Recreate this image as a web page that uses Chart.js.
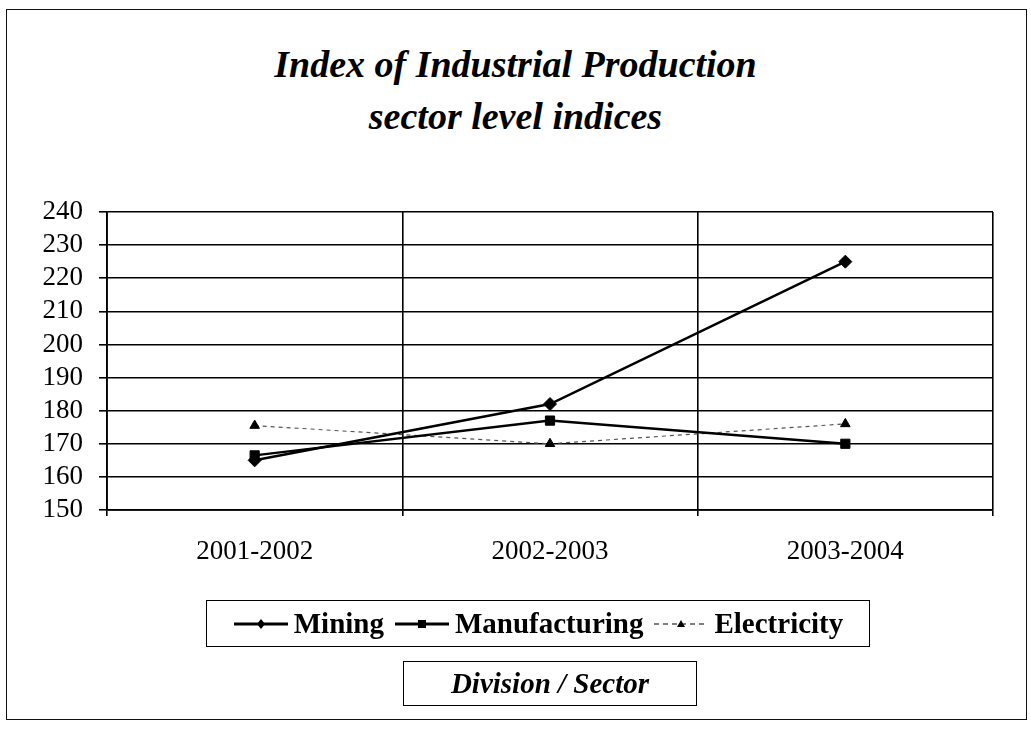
<!DOCTYPE html>
<html>
<head>
<meta charset="utf-8">
<script src="https://cdn.jsdelivr.net/npm/chart.js@4/dist/chart.umd.min.js"></script>
<style>
  html, body { margin: 0; padding: 0; background: #fff; }
  body { width: 1031px; height: 733px; position: relative; overflow: hidden; font-family: "Liberation Serif", "Times New Roman", serif; }
  #frame { position: absolute; left: 6px; top: 9px; width: 1021px; height: 711px; border: 1.5px solid #111; box-sizing: border-box; }
  #title { position: absolute; left: 0; width: 1031px; top: 38px; text-align: center; font-weight: bold; font-style: italic; font-size: 38px; line-height: 52px; color: #000; }
  #wrap { position: absolute; left: 0; top: 0; width: 1031px; height: 733px; }
  #legend { position: absolute; left: 206px; top: 600px; width: 664px; height: 47px; border: 1.5px solid #000; box-sizing: border-box; display: flex; align-items: center; justify-content: center; font-weight: bold; font-size: 29px; color: #000; white-space: nowrap; }
  #legend .item { display: flex; align-items: center; margin: 0 5px; }
  #legend svg { margin-right: 5px; }
  #xtitle { position: absolute; left: 403px; top: 661px; width: 294px; height: 45px; border: 1.5px solid #000; box-sizing: border-box; text-align: center; line-height: 42px; font-weight: bold; font-style: italic; font-size: 29px; color: #000; }
</style>
</head>
<body>
<div id="frame"></div>
<div id="title">Index of Industrial Production<br>sector level indices</div>
<div id="wrap"><canvas id="c" width="1031" height="733"></canvas></div>
<div id="legend"></div>
<div id="xtitle">Division / Sector</div>
<script>
const categories = ["2001-2002", "2002-2003", "2003-2004"];
const mining = [165, 182, 225];
const manufacturing = [166.5, 177, 170];
const electricity = [175.5, 170, 176];
const yTicks = [150, 160, 170, 180, 190, 200, 210, 220, 230, 240];
const seriesNames = ["Mining", "Manufacturing", "Electricity"];

const datasets = [
  { label: seriesNames[0], data: mining, borderColor: "#000", backgroundColor: "#000", borderWidth: 2.5, pointStyle: "rectRot", pointRadius: 6.5, pointBorderWidth: 1 },
  { label: seriesNames[1], data: manufacturing, borderColor: "#000", backgroundColor: "#000", borderWidth: 2.5, pointStyle: "rect", pointRadius: 6.5, pointBorderWidth: 1 },
  { label: seriesNames[2], data: electricity, borderColor: "#555", backgroundColor: "#000", borderWidth: 1.2, borderDash: [4, 4], pointStyle: "triangle", pointRadius: 5.5, pointBorderColor: "#000", pointBorderWidth: 1 }
];

const tickFont = { family: "Liberation Serif", size: 27 };

const chart = new Chart(document.getElementById("c"), {
  type: "line",
  data: { labels: categories, datasets: datasets },
  options: {
    responsive: false,
    animation: false,
    layout: { padding: { top: 212, right: 38, bottom: 163, left: 0 } },
    plugins: { legend: { display: false }, title: { display: false }, tooltip: { enabled: false } },
    scales: {
      x: {
        offset: true,
        grid: { offset: true, color: "#000", lineWidth: 1.6, tickLength: 6, drawTicks: true },
        border: { color: "#000", width: 1.8 },
        ticks: { color: "#000", padding: 20, font: tickFont, autoSkip: false, maxRotation: 0 },
        afterFit: (s) => { s.height = 60; }
      },
      y: {
        min: 150, max: 240,
        afterBuildTicks: (s) => { s.ticks = yTicks.map(v => ({ value: v })); },
        grid: { color: "#000", lineWidth: 1.6, tickLength: 8 },
        border: { color: "#000", width: 1.8 },
        ticks: { color: "#000", padding: 16, font: tickFont, autoSkip: false },
        afterFit: (s) => { s.width = 107; }
      }
    }
  }
});

// HTML legend built from the chart's datasets
const legend = document.getElementById("legend");
chart.data.datasets.forEach((ds) => {
  const item = document.createElement("div");
  item.className = "item";
  const dash = ds.borderDash ? 'stroke-dasharray="5,4"' : '';
  let marker = "";
  if (ds.pointStyle === "rectRot") marker = '<polygon points="28,6 32,11 28,16 24,11" fill="#000"/>';
  else if (ds.pointStyle === "rect") marker = '<rect x="24" y="7" width="8" height="8" fill="#000"/>';
  else marker = '<polygon points="28,7 32,14 24,14" fill="#000"/>';
  item.innerHTML = '<svg width="56" height="22"><line x1="1" y1="11" x2="55" y2="11" stroke="' + ds.borderColor + '" stroke-width="' + (ds.borderWidth + 0.3) + '" ' + dash + '/>' + marker + '</svg><span>' + ds.label + '</span>';
  legend.appendChild(item);
});
</script>
</body>
</html>
